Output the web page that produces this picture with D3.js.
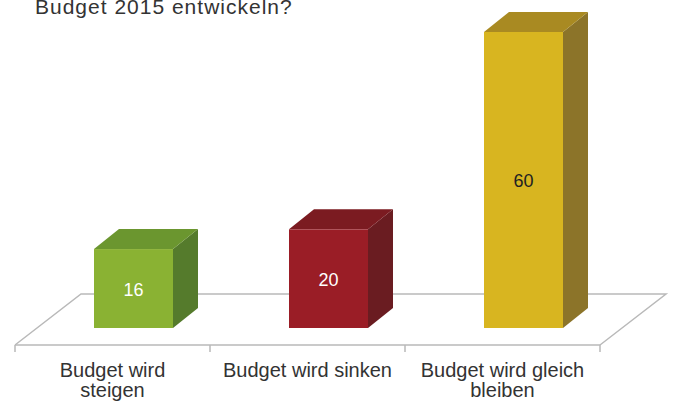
<!DOCTYPE html>
<html>
<head>
<meta charset="utf-8">
<script src="https://cdn.jsdelivr.net/npm/d3@7"></script>
<style>
  html, body { margin: 0; padding: 0; background: #ffffff; }
  svg { display: block; }
</style>
</head>
<body>
<svg id="chart" width="673" height="401"></svg>
<script>
// Survey answers and their shares
const categories = ["Budget wird steigen", "Budget wird sinken", "Budget wird gleich bleiben"];
const values = [16, 20, 60];
const tickLabels = [["Budget wird", "steigen"], ["Budget wird sinken"], ["Budget wird gleich", "bleiben"]];
const frontColors = ["#8ab233", "#9a1d26", "#d8b520"];
const sideColors = ["#557b2c", "#6a1c21", "#8c7429"];
const topColors = ["#6b962f", "#7b1b21", "#a98a22"];
const labelColors = ["#ffffff", "#ffffff", "#222222"];
const titleText = "Budget 2015 entwickeln?";

const svg = d3.select("#chart");

// Floor geometry (front edge and perspective offset to back edge)
const floorFront = 345, floorBack = 294, floorDx = 66;
const barBase = 328;             // where bars stand on the floor
const barShift = 21;             // horizontal shift from bar depth on floor
const depthDx = 25, depthDy = -20; // bar extrusion
const barWidth = 79;

const x = d3.scaleBand().domain(categories).range([15, 600]).padding(0);
const y = d3.scaleLinear().domain([0, 60]).range([barBase, 32]);

// Title (partly cut at the top)
svg.append("text")
  .attr("x", 35).attr("y", 14)
  .attr("font-family", "Liberation Sans, Arial, sans-serif")
  .attr("font-size", 21)
  .attr("letter-spacing", 1)
  .attr("fill", "#333")
  .text(titleText);

// Floor plane outline
const x0 = x.range()[0], x1 = x.range()[1];
const floor = svg.append("g").attr("fill", "none").attr("stroke", "#b9b9b9").attr("stroke-width", 1.5);
floor.append("path")
  .attr("d", `M${x0},${floorFront} L${x0 + floorDx},${floorBack} L${x1 + floorDx},${floorBack} L${x1},${floorFront}`);
floor.append("line")
  .attr("x1", x0).attr("x2", x1).attr("y1", floorFront).attr("y2", floorFront);

// Category boundary ticks
const tickXs = categories.map(c => x(c)).concat([x1]);
floor.selectAll("line.tick").data(tickXs).enter().append("line")
  .attr("class", "tick")
  .attr("x1", d => d).attr("x2", d => d)
  .attr("y1", floorFront).attr("y2", floorFront + 7);

// 3D bars
const bars = svg.selectAll("g.bar").data(categories).enter().append("g").attr("class", "bar");
bars.each(function (c, i) {
  const g = d3.select(this);
  const left = x(c) + (x.bandwidth() - barWidth) / 2 + barShift;
  const right = left + barWidth;
  const top = y(values[i]);
  const bottom = y(0);
  // side face
  g.append("path")
    .attr("d", `M${right},${top} L${right + depthDx},${top + depthDy} L${right + depthDx},${bottom + depthDy} L${right},${bottom} Z`)
    .attr("fill", sideColors[i]);
  // top face
  g.append("path")
    .attr("d", `M${left},${top} L${left + depthDx},${top + depthDy} L${right + depthDx},${top + depthDy} L${right},${top} Z`)
    .attr("fill", topColors[i]);
  // front face
  g.append("rect")
    .attr("x", left).attr("y", top)
    .attr("width", barWidth).attr("height", bottom - top)
    .attr("fill", frontColors[i]);
  // value label
  g.append("text")
    .attr("x", left + barWidth / 2)
    .attr("y", (top + bottom) / 2 + 7)
    .attr("text-anchor", "middle")
    .attr("font-family", "Liberation Sans, Arial, sans-serif")
    .attr("font-size", 18)
    .attr("fill", labelColors[i])
    .text(values[i]);
});

// Category labels
const labels = svg.selectAll("text.cat").data(categories).enter().append("text")
  .attr("class", "cat")
  .attr("x", c => x(c) + x.bandwidth() / 2)
  .attr("y", 377)
  .attr("text-anchor", "middle")
  .attr("font-family", "Liberation Sans, Arial, sans-serif")
  .attr("font-size", 20)
  .attr("fill", "#333");
labels.each(function (c, i) {
  const t = d3.select(this);
  tickLabels[i].forEach((line, j) => {
    t.append("tspan")
      .attr("x", x(c) + x.bandwidth() / 2)
      .attr("dy", j === 0 ? 0 : 20)
      .text(line);
  });
});
</script>
</body>
</html>
